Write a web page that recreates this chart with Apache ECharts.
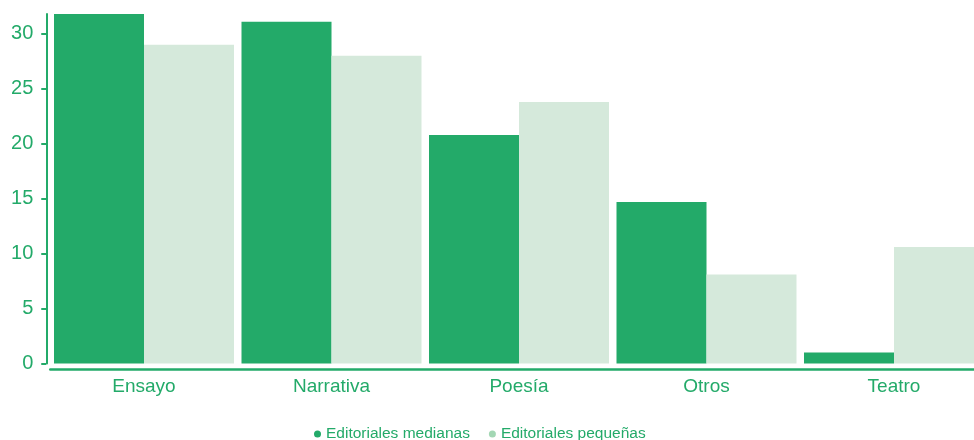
<!DOCTYPE html>
<html>
<head>
<meta charset="utf-8">
<script src="https://cdn.jsdelivr.net/npm/echarts@6/dist/echarts.min.js"></script>
<style>
  html, body { margin: 0; padding: 0; background: #ffffff; overflow: hidden; width: 974px; height: 440px; }
  /* the drawing is a little wider than the page, so the last bar is cut at the edge */
  #chart { width: 988px; height: 440px; }
</style>
</head>
<body>
<div id="chart"></div>
<script>
// Géneros publicados por tamaño de editorial (%)
var categories = ['Ensayo', 'Narrativa', 'Poesía', 'Otros', 'Teatro'];
var medianas = [31.8, 31.1, 20.8, 14.7, 1.0];
var pequenas = [29.0, 28.0, 23.8, 8.1, 10.6];
var yTicks = [0, 5, 10, 15, 20, 25, 30];
var seriesNames = ['Editoriales medianas', 'Editoriales pequeñas'];

var GREEN = '#23aa69';
var LIGHT = '#d5e9db';
var FONT = '"Liberation Sans", Arial, Helvetica, sans-serif';

var chart = echarts.init(document.getElementById('chart'), null, { renderer: 'canvas' });

chart.setOption({
  animation: false,
  backgroundColor: '#ffffff',
  textStyle: { fontFamily: FONT },
  grid: { left: 50.25, top: 14, width: 937.5, bottom: 76.5, containLabel: false },
  legend: {
    left: 309,
    top: 421,
    icon: 'circle',
    itemWidth: 7,
    itemHeight: 7,
    itemGap: 19,
    textStyle: { color: GREEN, fontSize: 15.5, fontFamily: FONT, padding: [0, 0, 0, 0] },
    data: [
      { name: seriesNames[0], itemStyle: { color: GREEN } },
      { name: seriesNames[1], itemStyle: { color: '#a3d7b4' } }
    ]
  },
  xAxis: {
    type: 'category',
    data: categories,
    offset: 6,
    axisLine: { show: true, onZero: false, lineStyle: { color: GREEN, width: 2.5 } },
    axisTick: { show: false },
    axisLabel: { color: GREEN, fontSize: 19, fontFamily: FONT, margin: 8 }
  },
  yAxis: {
    type: 'value',
    min: 0,
    max: 31.8,
    interval: 5,
    offset: 4,
    splitLine: { show: false },
    axisLine: { show: true, lineStyle: { color: GREEN, width: 2 } },
    axisTick: {
      show: true,
      length: 5,
      customValues: yTicks,
      lineStyle: { color: GREEN, width: 2 }
    },
    axisLabel: {
      color: GREEN,
      fontSize: 20,
      fontFamily: FONT,
      margin: 13,
      padding: [7, 0, 0, 0],
      customValues: yTicks
    }
  },
  series: [
    {
      name: seriesNames[0],
      type: 'bar',
      data: medianas,
      barGap: '0%',
      barCategoryGap: '4%',
      itemStyle: { color: GREEN },
      emphasis: { disabled: true }
    },
    {
      name: seriesNames[1],
      type: 'bar',
      data: pequenas,
      barGap: '0%',
      barCategoryGap: '4%',
      itemStyle: { color: LIGHT },
      emphasis: { disabled: true }
    }
  ]
});
</script>
</body>
</html>
